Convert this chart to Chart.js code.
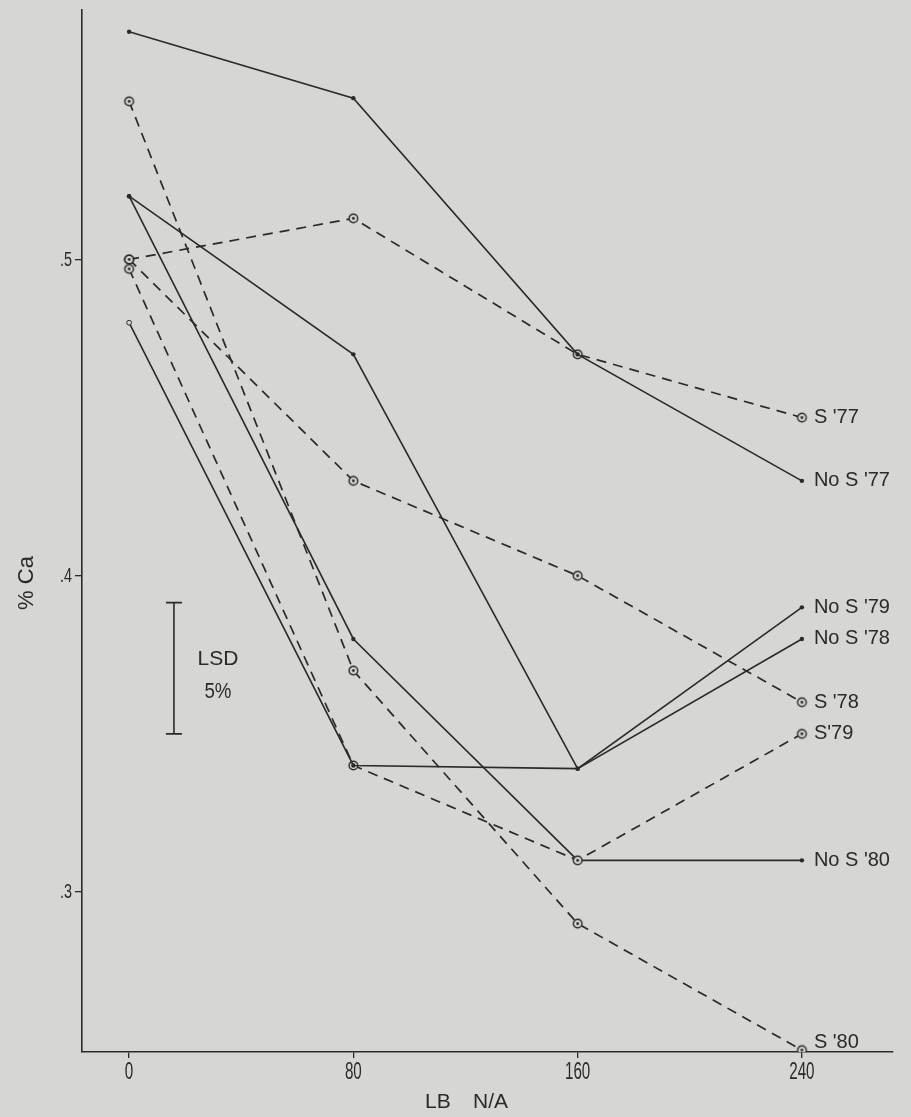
<!DOCTYPE html>
<html>
<head>
<meta charset="utf-8">
<title>% Ca response to N rate</title>
<script src="https://cdn.jsdelivr.net/npm/chart.js@4.4.1/dist/chart.umd.min.js"></script>
<style>
  html, body { margin: 0; padding: 0; background: #d6d6d4; }
  #wrap { width: 911px; height: 1117px; }
  canvas { display: block; }
</style>
</head>
<body>
<div id="wrap"><canvas id="chart" width="911" height="1117"></canvas></div>
<script>
// N rate, lb N per acre
const nRates = [0, 80, 160, 240];

// Leaf Ca (%) by year, with and without sulfur
const noS77 = [0.572, 0.551, 0.470, 0.430];
const s77   = [0.500, 0.513, 0.470, 0.450];
const noS78 = [0.520, 0.470, 0.339, 0.380];
const s78   = [0.500, 0.430, 0.400, 0.360];
const noS79 = [0.480, 0.340, 0.339, 0.390];
const s79   = [0.497, 0.340, 0.310, 0.350];
const noS80 = [0.520, 0.380, 0.310, 0.310];
const s80   = [0.550, 0.370, 0.290, 0.250];

const seriesNames = ["No S '77", "S '77", "No S '78", "S '78", "No S '79", "S'79", "No S '80", "S '80"];

// LSD (5%) bar: position on the N axis and its Ca span
const lsdX = 16;
const lsdSpan = [0.3915, 0.350];

const xTickValues = [0, 80, 160, 240];
const yTickValues = [0.3, 0.4, 0.5];

const INK = '#2a2a2a';
const PAPER = '#d6d6d4';
const SANS = '"Liberation Sans", Arial, Helvetica, sans-serif';

// circled-dot marker used for the sulfur treatments
function ringMark(r) {
  const s = Math.ceil(r * 2 + 4);
  const c = document.createElement('canvas');
  c.width = c.height = s;
  const g = c.getContext('2d');
  g.fillStyle = PAPER;
  g.strokeStyle = INK;
  g.lineWidth = 1.4;
  g.beginPath(); g.arc(s / 2, s / 2, r, 0, Math.PI * 2); g.fill(); g.stroke();
  g.fillStyle = INK;
  g.beginPath(); g.arc(s / 2, s / 2, 1.4, 0, Math.PI * 2); g.fill();
  return c;
}
const ring = ringMark(4.3);

function pts(values) {
  return values.map((v, i) => ({ x: nRates[i], y: v }));
}

function solid(name, values) {
  return {
    label: name, endLabel: name, data: pts(values),
    borderColor: INK, borderWidth: 1.6, borderDash: [],
    pointStyle: 'circle', pointRadius: 2.2, pointBackgroundColor: INK, pointBorderWidth: 0,
    tension: 0
  };
}
function dashed(name, values) {
  return {
    label: name, endLabel: name, data: pts(values),
    borderColor: INK, borderWidth: 1.7, borderDash: [10, 7],
    pointStyle: ring, pointRadius: 5,
    tension: 0
  };
}

const datasets = [
  solid(seriesNames[0], noS77),
  dashed(seriesNames[1], s77),
  solid(seriesNames[2], noS78),
  dashed(seriesNames[3], s78),
  solid(seriesNames[4], noS79),
  dashed(seriesNames[5], s79),
  solid(seriesNames[6], noS80),
  dashed(seriesNames[7], s80)
];
// the first No S '79 point is an open dot
datasets[4].pointBackgroundColor = [PAPER, INK, INK, INK];
datasets[4].pointBorderColor = INK;
datasets[4].pointBorderWidth = [1, 0, 0, 0];
datasets[4].pointRadius = [2.4, 2.2, 2.2, 2.2];
datasets[7].labelShift = -8;

// LSD bar with end caps
datasets.push({
  label: 'LSD', data: lsdSpan.map(v => ({ x: lsdX, y: v })),
  borderColor: INK, borderWidth: 1.6,
  pointStyle: 'line', pointRadius: 8, pointBorderColor: INK, pointBorderWidth: 1.6,
  tension: 0
});

// narrow lettering: draw text squeezed horizontally
function narrowText(ctx, text, x, y, squeeze) {
  ctx.save();
  ctx.translate(x, y);
  ctx.scale(squeeze, 1);
  ctx.fillText(text, 0, 0);
  ctx.restore();
}

const paperPlugin = {
  id: 'paper',
  beforeDraw(chart) {
    const ctx = chart.ctx;
    ctx.save();
    ctx.fillStyle = PAPER;
    ctx.fillRect(0, 0, chart.width, chart.height);
    ctx.restore();
  }
};

const notesPlugin = {
  id: 'notes',
  afterDraw(chart) {
    const { ctx, chartArea } = chart;
    const xs = chart.scales.x, ys = chart.scales.y;
    ctx.save();
    ctx.fillStyle = INK;

    // tick labels in narrow lettering
    ctx.font = '23px ' + SANS;
    ctx.textAlign = 'center';
    ctx.textBaseline = 'top';
    xs.ticks.forEach(t => {
      narrowText(ctx, String(t.value), xs.getPixelForValue(t.value), chartArea.bottom + 9, 0.66);
    });
    ctx.font = '20px ' + SANS;
    ctx.textAlign = 'right';
    ctx.textBaseline = 'middle';
    ys.ticks.forEach(t => {
      narrowText(ctx, '.' + Math.round(t.value * 10), chartArea.left - 10, ys.getPixelForValue(t.value) + 1, 0.72);
    });

    // series names at the 240 end
    ctx.font = '20px ' + SANS;
    ctx.textAlign = 'left';
    ctx.textBaseline = 'middle';
    chart.data.datasets.forEach(ds => {
      if (!ds.endLabel) return;
      const last = ds.data[ds.data.length - 1];
      ctx.fillText(ds.endLabel, xs.getPixelForValue(last.x) + 12, ys.getPixelForValue(last.y) + (ds.labelShift || 0));
    });

    // LSD caption
    const lx = xs.getPixelForValue(lsdX) + 44;
    const ly = ys.getPixelForValue(lsdSpan[0]);
    ctx.textAlign = 'center';
    ctx.font = '21px ' + SANS;
    ctx.fillText('LSD', lx, ly + 57);
    ctx.font = '22px ' + SANS;
    narrowText(ctx, '5%', lx, ly + 89, 0.85);

    // axis titles
    ctx.font = '21px ' + SANS;
    ctx.textAlign = 'left';
    ctx.fillText('LB', 425, chartArea.bottom + 50);
    ctx.fillText('N/A', 473, chartArea.bottom + 50);

    ctx.translate(27, 583);
    ctx.rotate(-Math.PI / 2);
    ctx.textAlign = 'center';
    ctx.font = '22px ' + SANS;
    ctx.fillText('% Ca', 0, 0);
    ctx.restore();
  }
};

new Chart(document.getElementById('chart'), {
  type: 'line',
  data: { datasets },
  plugins: [paperPlugin, notesPlugin],
  options: {
    responsive: false,
    animation: false,
    devicePixelRatio: 1,
    layout: { padding: { top: 7, right: 18, left: 0, bottom: 0 } },
    plugins: { legend: { display: false }, tooltip: { enabled: false } },
    elements: { line: { fill: false } },
    scales: {
      x: {
        type: 'linear', min: -16.8, max: 272.5,
        afterBuildTicks: s => { s.ticks = xTickValues.map(v => ({ value: v })); },
        afterFit: s => { s.height = 65; },
        grid: { drawOnChartArea: false, drawTicks: true, tickLength: 6, color: INK, lineWidth: 1.3 },
        border: { display: true, color: INK, width: 1.6 },
        ticks: { display: false, autoSkip: false }
      },
      y: {
        type: 'linear', min: 0.2494, max: 0.579,
        afterBuildTicks: s => { s.ticks = yTickValues.map(v => ({ value: v })); },
        afterFit: s => { s.width = 82; },
        grid: { drawOnChartArea: false, drawTicks: true, tickLength: 7, color: INK, lineWidth: 1.3 },
        border: { display: true, color: INK, width: 1.6 },
        ticks: { display: false, autoSkip: false }
      }
    }
  }
});
</script>
</body>
</html>
